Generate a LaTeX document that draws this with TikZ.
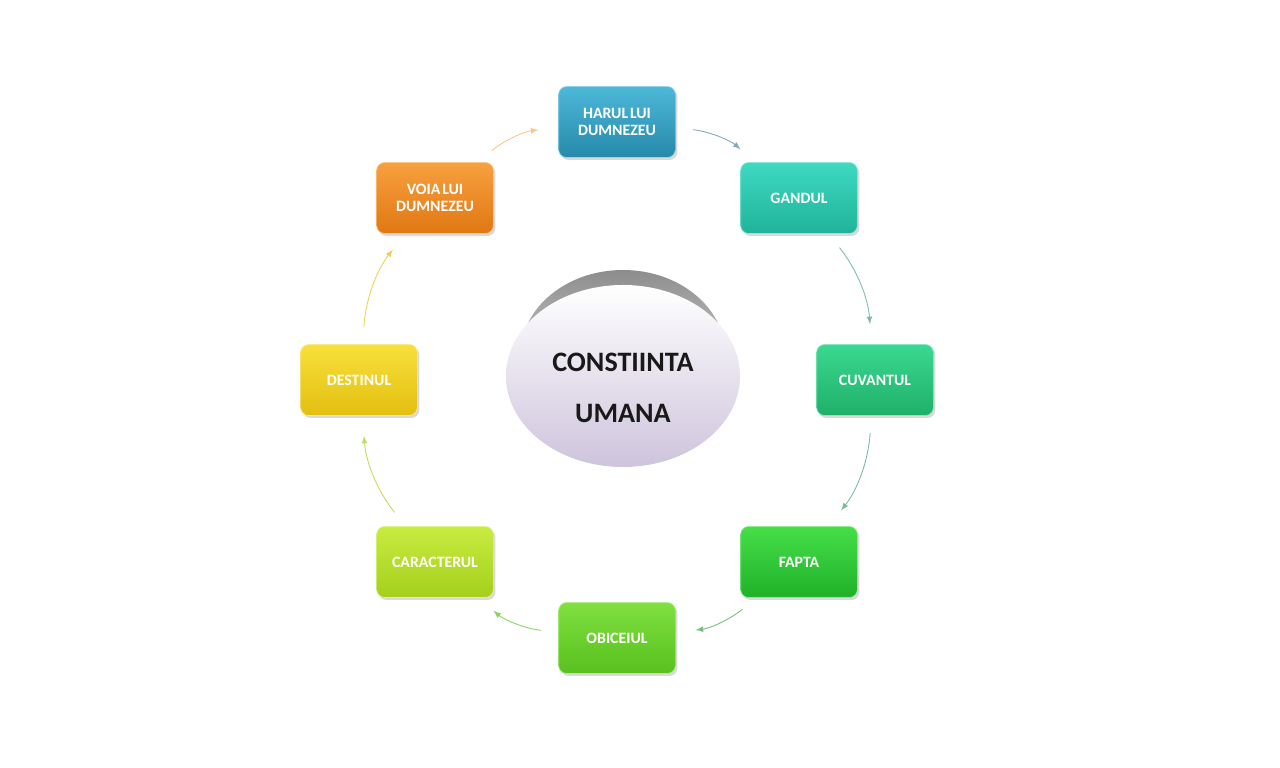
\documentclass[tikz,border=0pt]{standalone}
\usepackage{fontspec}
\setmainfont{Carlito}
\usetikzlibrary{arrows,shadows,shapes.geometric}

\definecolor{harulA}{HTML}{4DB8D8}
\definecolor{harulB}{HTML}{2689AA}
\definecolor{gandulA}{HTML}{3ED9C2}
\definecolor{gandulB}{HTML}{20B39A}
\definecolor{cuvantulA}{HTML}{3AD892}
\definecolor{cuvantulB}{HTML}{1FB068}
\definecolor{faptaA}{HTML}{45DF48}
\definecolor{faptaB}{HTML}{20B02A}
\definecolor{obiceiulA}{HTML}{80E040}
\definecolor{obiceiulB}{HTML}{58C01E}
\definecolor{caracterulA}{HTML}{C8EC40}
\definecolor{caracterulB}{HTML}{A4CF1C}
\definecolor{destinulA}{HTML}{F8E03A}
\definecolor{destinulB}{HTML}{E3BF10}
\definecolor{voiaA}{HTML}{F7A040}
\definecolor{voiaB}{HTML}{E07812}
\definecolor{lavender}{HTML}{CEC4DC}

\begin{document}
\begin{tikzpicture}[box/.style={rounded corners=1.6mm, minimum width=2.24cm,
                                minimum height=1.42cm, text width=2.1cm,
                                align=center, text=white,
                                font=\fontsize{9}{10}\selectfont\bfseries,
                                drop shadow={opacity=0.3, shadow xshift=0.04cm,
                                             shadow yshift=-0.05cm}},
                    link/.style={-latex, line width=0.5pt, bend left=17,
                                 shorten <=0.35cm, shorten >=0.4cm}]
    \useasboundingbox (0,0) rectangle (25.6,15.36);

    % center
    \node[ellipse, minimum width=4.1cm, minimum height=3.4cm,
          top color=black!45, bottom color=white] (ballBack) at (12.46,8.26) {};
    \node[ellipse, minimum width=4.68cm, minimum height=3.64cm,
          top color=white, bottom color=lavender] (ball) at (12.46,7.84) {};
    \node[align=center, text=black!90,
          font=\fontsize{16}{29}\selectfont\bfseries] (ballText) at (12.46,7.61)
          {CONSTIINTA\\UMANA};

    % boxes
    \node[box, top color=harulA, bottom color=harulB, draw=harulA!60!white]
        (harul) at (12.34,12.92) {HARUL\hspace{0.12em}LUI\\DUMNEZEU};
    \node[box, top color=gandulA, bottom color=gandulB, draw=gandulA!60!white]
        (gandul) at (15.98,11.40) {GANDUL};
    \node[box, top color=cuvantulA, bottom color=cuvantulB, draw=cuvantulA!60!white]
        (cuvantul) at (17.50,7.76) {CUVANTUL};
    \node[box, top color=faptaA, bottom color=faptaB, draw=faptaA!60!white]
        (fapta) at (15.98,4.12) {FAPTA};
    \node[box, top color=obiceiulA, bottom color=obiceiulB, draw=obiceiulA!60!white]
        (obiceiul) at (12.34,2.60) {OBICEIUL};
    \node[box, top color=caracterulA, bottom color=caracterulB, draw=caracterulA!60!white]
        (caracterul) at (8.70,4.12) {CARACTERUL};
    \node[box, top color=destinulA, bottom color=destinulB, draw=destinulA!60!white]
        (destinul) at (7.18,7.76) {DESTINUL};
    \node[box, top color=voiaA, bottom color=voiaB, draw=voiaA!60!white]
        (voia) at (8.70,11.40) {VOIA\hspace{0.12em}LUI\\DUMNEZEU};

    % cycle
    \path
        (harul)      edge [link, draw=harulB!60!gray!70]        (gandul)
        (gandul)     edge [link, draw=gandulB!60!gray!70]       (cuvantul)
        (cuvantul)   edge [link, draw=cuvantulB!60!gray!70]     (fapta)
        (fapta)      edge [link, draw=faptaB!70!gray!70]        (obiceiul)
        (obiceiul)   edge [link, draw=obiceiulB!70!white]       (caracterul)
        (caracterul) edge [link, draw=caracterulB!70!white]     (destinul)
        (destinul)   edge [link, draw=destinulB!70!white]       (voia)
        (voia)       edge [link, draw=voiaA!60!white]           (harul)
        ;
\end{tikzpicture}
\end{document}
